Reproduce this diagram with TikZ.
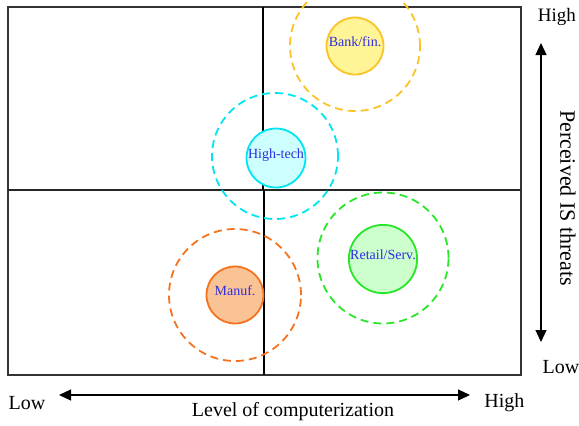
\documentclass[tikz,border=0pt]{standalone}
\usepackage{fontspec}
\setmainfont{Liberation Serif}
\usetikzlibrary{arrows.meta}
\definecolor{labelblue}{RGB}{45,45,225}
\definecolor{bankline}{RGB}{250,195,40}\definecolor{bankfill}{RGB}{255,245,150}
\definecolor{techline}{RGB}{0,230,240}\definecolor{techfill}{RGB}{205,255,255}
\definecolor{manline}{RGB}{245,115,30}\definecolor{manfill}{RGB}{250,195,150}
\definecolor{retline}{RGB}{40,230,40}\definecolor{retfill}{RGB}{205,255,205}
\tikzset{
  core/.style={circle,draw=#1line,fill=#1fill,line width=1.8pt,minimum size=57pt,inner sep=0pt,text height=10pt,text depth=9pt,text=labelblue,font=\fontsize{14}{15}\selectfont},
  halo/.style={circle,draw=#1line,line width=1.8pt,dash pattern=on 8pt off 5pt,inner sep=0pt},
  axislbl/.style={font=\fontsize{20}{22}\selectfont},
  bothtips/.style={{Triangle[length=12pt,width=11pt]}-{Triangle[length=12pt,width=11pt]},line width=1.2pt}
}
\begin{document}
\begin{tikzpicture}[x=1pt,y=-1pt]
\useasboundingbox(0,0)rectangle(579,426);\clip(0,0)rectangle(579,426);
\draw[line width=1.3pt,black!80](8,7)rectangle(521,375);
\draw[line width=1.3pt,black!85](8,190)--(521,190);
\draw[line width=1.4pt](263,7)--(263,190);\draw[line width=2.1pt](264,190)--(264,375);
\node[halo=bank,minimum size=130pt](bo)at(355,46){};\node[core=bank](b)at(355,46){Bank/fin.};
\node[halo=tech,minimum size=126pt](ho)at(275,156){};\node[core=tech](h)at(276,158){High-tech};
\node[halo=man,minimum size=132pt](mo)at(235,295){};\node[core=man](m)at(235,295){Manuf.};
\node[halo=ret,minimum size=131pt](ro)at(383,258){};\node[core=ret](r)at(383,259){Retail/Serv.};
\node[axislbl,anchor=west](xl)at(5,403){Low};\node[axislbl,anchor=east](xh)at(528,403){High};
\node[axislbl](xt)at(293,412){Level of computerization};
\coordinate(xa)at(59,395);\coordinate(xb)at(470,395);
\draw[bothtips](xa)--(xb);
\node[axislbl,anchor=east,inner sep=1pt,font=\fontsize{19}{21}\selectfont](yh)at(577,17){High};\node[axislbl,anchor=west](yl)at(539,367){Low};
\node[axislbl,rotate=-90,font=\fontsize{22}{24}\selectfont](yt)at(568,198){Perceived IS threats};
\coordinate(ya)at(541,43);\coordinate(yb)at(541,342);
\draw[bothtips](ya)--(yb);
\end{tikzpicture}
\end{document}
